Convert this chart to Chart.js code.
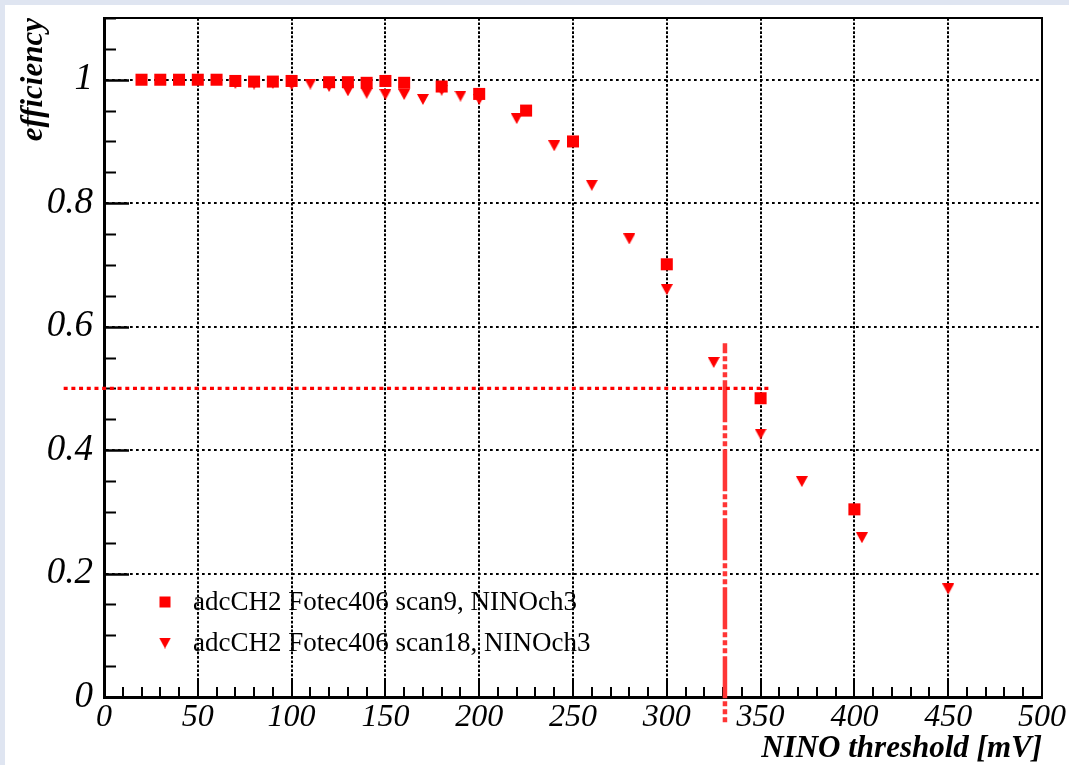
<!DOCTYPE html>
<html>
<head>
<meta charset="utf-8">
<title>NINO threshold scan</title>
<script src="https://cdn.jsdelivr.net/npm/chart.js@4.4.1/dist/chart.umd.min.js"></script>
<style>
  html, body { margin: 0; padding: 0; background: #dfe5f1; }
  #wrap { position: absolute; left: 5px; top: 5px; width: 1064px; height: 760px; background: #ffffff; }
  canvas { display: block; }
</style>
</head>
<body>
<div id="wrap"><canvas id="c" width="1064" height="760"></canvas></div>
<script>
// Efficiency versus NINO discriminator threshold, two scans on channel 3
const scan9Label = 'adcCH2 Fotec406 scan9, NINOch3';
const scan9Threshold = [20, 30, 40, 50, 60, 70, 80, 90, 100, 120, 130, 140, 150, 160, 180, 200, 225, 250, 300, 350, 400];
const scan9Efficiency = [1.000, 1.000, 1.000, 1.000, 1.000, 0.998, 0.997, 0.997, 0.998, 0.996, 0.996, 0.995, 0.998, 0.995, 0.989, 0.977, 0.950, 0.900, 0.701, 0.484, 0.304];

const scan18Label = 'adcCH2 Fotec406 scan18, NINOch3';
const scan18Threshold = [70, 80, 90, 100, 110, 120, 130, 140, 150, 160, 170, 180, 190, 200, 220, 240, 260, 280, 300, 325, 350, 372, 404, 450];
const scan18Efficiency = [0.994, 0.993, 0.994, 0.992, 0.993, 0.989, 0.982, 0.978, 0.976, 0.976, 0.968, 0.983, 0.9735, 0.968, 0.937, 0.893, 0.829, 0.742, 0.660, 0.542, 0.426, 0.349, 0.258, 0.175];

// 50% efficiency guide and the threshold where it is crossed
const halfLevel = 0.5;
const halfLevelSpan = [-21.5, 356];
const crossingThreshold = 331;
const crossingSpan = [0.573, -0.045];

// Axis ticks
const xTickValues = [0, 50, 100, 150, 200, 250, 300, 350, 400, 450, 500];
const xTickLabels = ['0', '50', '100', '150', '200', '250', '300', '350', '400', '450', '500'];
const yTickValues = [0, 0.2, 0.4, 0.6, 0.8, 1];
const yTickLabels = ['0', '0.2', '0.4', '0.6', '0.8', '1'];

const RED = '#ff0000';
const SERIF = '"Liberation Serif", "Times New Roman", serif';

// Downward triangle marker
function triangleDown(w, h, color) {
  const c = document.createElement('canvas');
  c.width = w; c.height = h;
  const g = c.getContext('2d');
  g.fillStyle = color;
  g.beginPath();
  g.moveTo(0, 0);
  g.lineTo(w, 0);
  g.lineTo(w / 2, h);
  g.closePath();
  g.fill();
  return c;
}
const triMarker = triangleDown(12, 11, RED);

const pairs = (xs, ys) => xs.map((x, i) => ({ x: x, y: ys[i] }));

// Inward ticks, frame and in-plot legend
const frameTicks = {
  id: 'frameTicks',
  beforeDatasetsDraw(chart) {
    const { ctx, chartArea: a, scales: { x, y } } = chart;
    ctx.save();
    ctx.strokeStyle = '#000';
    ctx.lineCap = 'butt';
    // y axis: minor every 0.05, major every 0.2
    for (let i = 0; i * 0.05 <= y.max + 1e-9; i++) {
      const py = Math.round(y.getPixelForValue(i * 0.05)) + 0.5;
      const major = i % 4 === 0;
      ctx.lineWidth = major ? 2.5 : 2;
      ctx.beginPath();
      ctx.moveTo(a.left, py);
      ctx.lineTo(a.left + (major ? 25 : 12), py);
      ctx.stroke();
    }
    // x axis: minor every 10, major every 50
    for (let i = 0; i * 10 <= x.max + 1e-9; i++) {
      const px = Math.round(x.getPixelForValue(i * 10));
      const major = i % 5 === 0;
      ctx.lineWidth = 2;
      ctx.beginPath();
      ctx.moveTo(px, a.bottom);
      ctx.lineTo(px, a.bottom - (major ? 18 : 10));
      ctx.stroke();
    }
    // frame
    ctx.lineWidth = 2;
    ctx.strokeRect(a.left, a.top, a.right - a.left, a.bottom - a.top);
    ctx.restore();
  },
  afterDatasetsDraw(chart) {
    const { ctx, chartArea: a } = chart;
    const rows = [
      { ds: chart.data.datasets[0], y: a.bottom - 95 },
      { ds: chart.data.datasets[1], y: a.bottom - 54 }
    ];
    ctx.save();
    ctx.font = '27px ' + SERIF;
    ctx.textBaseline = 'middle';
    ctx.textAlign = 'left';
    rows.forEach(r => {
      const mx = a.left + 61;
      if (r.ds.pointStyle === 'rect') {
        ctx.fillStyle = RED;
        ctx.fillRect(mx - 5.5, r.y - 5.5, 11, 11);
      } else {
        ctx.drawImage(r.ds.pointStyle, mx - 6, r.y - 5.5);
      }
      ctx.fillStyle = '#000';
      ctx.fillText(r.ds.label, a.left + 89, r.y + 1);
    });
    ctx.restore();
  }
};

new Chart(document.getElementById('c'), {
  type: 'scatter',
  data: {
    datasets: [
      {
        label: scan9Label,
        data: pairs(scan9Threshold, scan9Efficiency),
        pointStyle: 'rect',
        pointRadius: 8.5,
        backgroundColor: RED,
        borderWidth: 0
      },
      {
        label: scan18Label,
        data: pairs(scan18Threshold, scan18Efficiency),
        pointStyle: triMarker,
        pointRadius: 6,
        backgroundColor: RED,
        borderWidth: 0
      },
      {
        label: 'half',
        data: [{ x: halfLevelSpan[0], y: halfLevel }, { x: halfLevelSpan[1], y: halfLevel }],
        showLine: true,
        pointRadius: 0,
        borderColor: RED,
        borderWidth: 3.3,
        borderDash: [4, 3.7],
        clip: false
      },
      {
        label: 'crossing',
        data: [{ x: crossingThreshold, y: crossingSpan[0] }, { x: crossingThreshold, y: crossingSpan[1] }],
        showLine: true,
        pointRadius: 0,
        borderColor: '#ff3535',
        borderWidth: 4.5,
        borderDash: [42, 3, 5, 3, 5, 3, 5, 3],
        borderDashOffset: 32,
        clip: false
      }
    ]
  },
  options: {
    responsive: false,
    animation: false,
    events: [],
    devicePixelRatio: 1,
    layout: { padding: { left: 0, top: 13, right: 27, bottom: 0 } },
    plugins: { legend: { display: false }, tooltip: { enabled: false } },
    scales: {
      x: {
        type: 'linear',
        min: 0,
        max: 500,
        afterFit(s) { s.height = 68; s.paddingLeft = 0; s.paddingRight = 0; },
        afterBuildTicks(s) { s.ticks = xTickValues.map(v => ({ value: v })); },
        grid: { color: '#000', lineWidth: 2, drawTicks: false },
        border: { display: true, color: '#000', width: 3, dash: [2.7, 1.7] },
        ticks: {
          autoSkip: false,
          maxRotation: 0,
          padding: 1,
          color: '#000',
          font: { family: SERIF, size: 32, style: 'italic' },
          callback: (v, i) => xTickLabels[i]
        },
        title: {
          display: true,
          text: 'NINO threshold [mV]',
          align: 'end',
          color: '#000',
          font: { family: SERIF, size: 31, style: 'italic', weight: 'bold', lineHeight: 1 },
          padding: { top: 0, bottom: 0.5 }
        }
      },
      y: {
        type: 'linear',
        min: 0,
        max: 1.1,
        afterFit(s) { s.width = 99; s.paddingTop = 0; s.paddingBottom = 0; },
        afterBuildTicks(s) { s.ticks = yTickValues.map(v => ({ value: v })); },
        grid: { color: '#000', lineWidth: 2, drawTicks: false },
        border: { display: true, color: '#000', width: 3, dash: [2.7, 3.3] },
        ticks: {
          autoSkip: false,
          padding: 11,
          color: '#000',
          font: { family: SERIF, size: 37, style: 'italic' },
          callback: (v, i) => yTickLabels[i]
        },
        title: {
          display: true,
          text: 'efficiency',
          align: 'end',
          color: '#000',
          font: { family: SERIF, size: 31, style: 'italic', weight: 'bold', lineHeight: 1 },
          padding: { top: 13, bottom: 0 }
        }
      }
    }
  },
  plugins: [frameTicks]
});
</script>
</body>
</html>
